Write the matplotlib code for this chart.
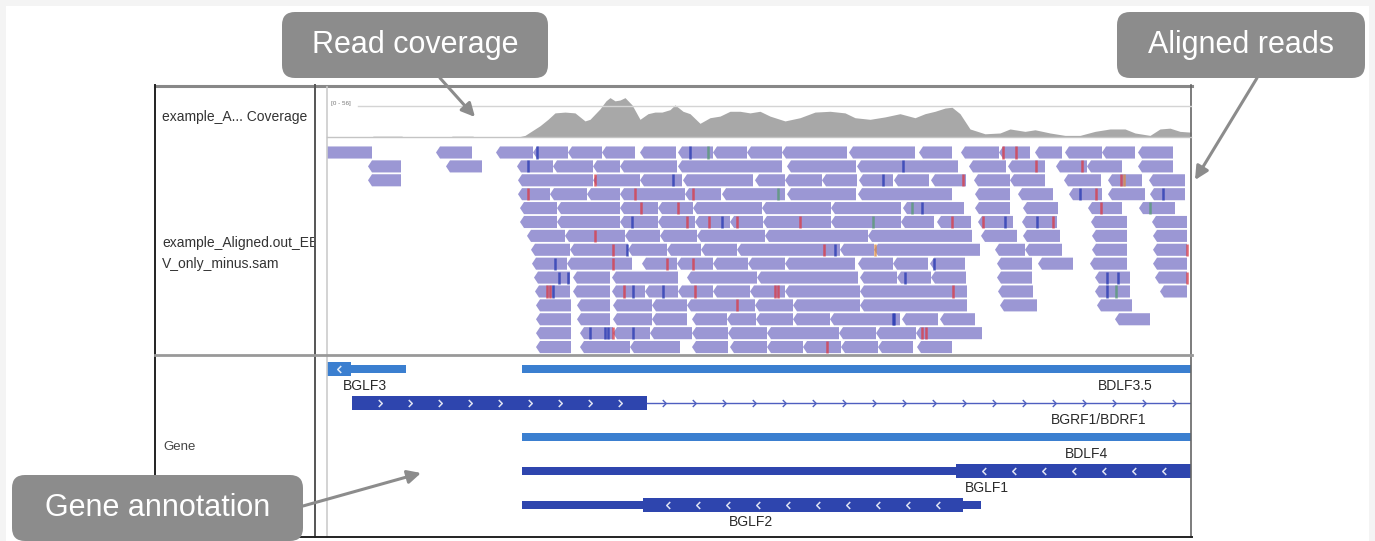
import numpy as np
import matplotlib.pyplot as plt
from matplotlib.patches import Polygon, Rectangle, FancyBboxPatch
from matplotlib.collections import PatchCollection
from matplotlib.path import Path

plt.rcParams['font.family'] = ['Liberation Sans', 'DejaVu Sans']

W, H = 1375, 541

# ---- coverage track (position, depth) ----
cov_pos = [327, 372, 373, 402, 403, 451, 452, 473, 474, 518, 525, 540, 548, 555, 565,
           575, 585, 590, 600, 606, 610, 615, 620, 625, 632, 640, 648, 655, 662, 670,
           675, 683, 690, 700, 710, 720, 730, 740, 750, 760, 770, 785, 800, 815, 830,
           845, 855, 870, 885, 900, 915, 925, 935, 945, 952, 960, 970, 985, 1000, 1010,
           1025, 1035, 1050, 1065, 1080, 1095, 1110, 1125, 1135, 1150, 1160, 1170, 1180, 1191]
cov_depth = [0, 0, 1, 1, 0, 0, 1, 1, 0, 0, 2, 14, 22, 30, 31,
             30, 20, 22, 35, 45, 49, 45, 46, 49, 40, 22, 29, 31, 31, 34,
             40, 32, 29, 17, 24, 26, 32, 32, 30, 32, 26, 20, 24, 31, 32,
             30, 24, 22, 25, 29, 24, 29, 32, 36, 37, 29, 10, 4, 5, 10,
             7, 9, 5, 2, 2, 7, 10, 10, 5, 2, 10, 11, 7, 6]
cov_max = 56

# ---- aligned reads, one list per row: (start, end) ----
read_rows = [
    [(320, 372), (436, 472), (496, 533), (533, 568), (568, 602), (602, 635), (640, 676), (678, 713),
     (713, 747), (747, 782), (782, 847), (849, 915), (919, 952), (961, 999), (999, 1030),
     (1035, 1062), (1065, 1102), (1102, 1135), (1138, 1173)],
    [(368, 401), (446, 482), (517, 553), (553, 593), (593, 620), (620, 677), (678, 782), (787, 856),
     (857, 958), (969, 1006), (1008, 1045), (1056, 1087), (1087, 1122), (1138, 1173)],
    [(368, 401), (518, 593), (593, 640), (640, 682), (683, 753), (755, 785), (785, 822), (822, 857),
     (859, 893), (894, 929), (931, 966), (974, 1010), (1010, 1045), (1064, 1101), (1108, 1142),
     (1149, 1185)],
    [(518, 550), (550, 587), (587, 620), (620, 685), (685, 721), (722, 785), (787, 856), (858, 952),
     (975, 1010), (1018, 1053), (1069, 1102), (1108, 1145), (1150, 1185)],
    [(520, 557), (557, 620), (620, 658), (658, 693), (693, 762), (762, 831), (831, 901), (903, 964),
     (975, 1010), (1023, 1058), (1088, 1122), (1139, 1175)],
    [(520, 557), (557, 620), (620, 658), (658, 695), (695, 730), (730, 763), (763, 831), (831, 901),
     (901, 934), (937, 971), (978, 1013), (1022, 1057), (1091, 1127), (1152, 1187)],
    [(527, 565), (565, 625), (625, 660), (660, 697), (697, 765), (765, 868), (868, 972), (981, 1017),
     (1023, 1060), (1092, 1127), (1153, 1187)],
    [(531, 570), (570, 628), (628, 667), (667, 701), (701, 737), (737, 840), (840, 874), (874, 980),
     (995, 1025), (1025, 1062), (1092, 1127), (1153, 1187)],
    [(532, 567), (567, 632), (642, 677), (677, 713), (713, 748), (748, 785), (785, 855), (858, 893),
     (893, 928), (930, 965), (997, 1032), (1038, 1073), (1090, 1127), (1153, 1187)],
    [(534, 570), (573, 610), (612, 678), (687, 757), (757, 858), (860, 897), (897, 931), (931, 966),
     (997, 1032), (1095, 1130), (1155, 1187)],
    [(535, 570), (573, 610), (612, 645), (645, 678), (678, 713), (713, 750), (750, 785), (785, 860),
     (860, 967), (998, 1033), (1095, 1130), (1160, 1187)],
    [(536, 571), (577, 610), (613, 652), (652, 687), (687, 755), (755, 793), (793, 860), (860, 967),
     (1000, 1037), (1097, 1132)],
    [(536, 571), (577, 610), (613, 652), (652, 687), (692, 727), (727, 756), (756, 793), (793, 830),
     (830, 900), (902, 938), (940, 975), (1115, 1150)],
    [(536, 571), (580, 613), (613, 650), (650, 692), (692, 728), (728, 767), (767, 839), (839, 876),
     (876, 916), (916, 982)],
    [(536, 571), (580, 630), (630, 680), (692, 728), (730, 767), (767, 803), (803, 841), (841, 878),
     (878, 913), (917, 952)],
]

# mismatched bases: (position, row, base colour key)
mismatches = [
    (537, 0, 'b'), (690, 0, 'b'), (708, 0, 'g'), (1003, 0, 'r'), (1016, 0, 'r'),
    (528, 1, 'b'), (903, 1, 'b'), (1036, 1, 'r'), (1082, 1, 'r'),
    (595, 2, 'r'), (673, 2, 'b'), (883, 2, 'b'), (963, 2, 'r'), (1121, 2, 'r'), (1124, 2, 'o'),
    (528, 3, 'r'), (635, 3, 'r'), (693, 3, 'r'), (778, 3, 'g'), (1080, 3, 'b'), (1096, 3, 'r'), (1163, 3, 'b'),
    (641, 4, 'r'), (678, 4, 'r'), (912, 4, 'g'), (922, 4, 'b'), (1101, 4, 'r'), (1150, 4, 'g'),
    (632, 5, 'b'), (687, 5, 'r'), (709, 5, 'r'), (722, 5, 'b'), (737, 5, 'r'), (800, 5, 'r'), (873, 5, 'g'),
    (952, 5, 'r'), (983, 5, 'r'), (1005, 5, 'b'), (1037, 5, 'b'), (1053, 5, 'r'),
    (595, 6, 'r'),
    (613, 7, 'r'), (627, 7, 'b'), (824, 7, 'r'), (835, 7, 'b'), (875, 7, 'o'), (1187, 7, 'r'),
    (555, 8, 'b'), (613, 8, 'r'), (667, 8, 'r'), (693, 8, 'r'), (934, 8, 'b'),
    (559, 9, 'b'), (568, 9, 'b'), (905, 9, 'b'), (1107, 9, 'b'), (1118, 9, 'b'), (1187, 9, 'r'),
    (547, 10, 'r'), (550, 10, 'r'), (553, 10, 'b'), (624, 10, 'r'), (633, 10, 'b'), (663, 10, 'b'),
    (695, 10, 'r'), (775, 10, 'r'), (778, 10, 'r'), (953, 10, 'r'), (1107, 10, 'b'), (1116, 10, 'g'),
    (737, 11, 'r'),
    (893, 12, 'b'), (894, 12, 'b'),
    (590, 13, 'b'), (605, 13, 'b'), (608, 13, 'b'), (613, 13, 'r'), (633, 13, 'b'), (922, 13, 'r'), (926, 13, 'r'),
    (827, 14, 'r'),
]
base_colors = {'r': '#d8404c', 'b': '#2c3db3', 'g': '#5a9a78', 'o': '#d98c4a'}

# ---- gene annotation ----
gene_names = ['BGLF3', 'BDLF3.5', 'BGRF1/BDRF1', 'BDLF4', 'BGLF1', 'BGLF2']
gene_rows = [0, 0, 1, 2, 3, 4]
gene_strand = ['-', '-', '+', '-', '-', '-']
gene_shade = ['light', 'light', 'dark', 'light', 'dark', 'dark']
gene_parts = [
    [(318, 351, 'cds'), (351, 406, 'utr')],
    [(522, 1200, 'utr')],
    [(352, 647, 'cds'), (647, 1200, 'intron')],
    [(522, 1200, 'utr')],
    [(522, 956, 'utr'), (956, 1200, 'cds')],
    [(522, 643, 'utr'), (643, 963, 'cds'), (963, 981, 'utr')],
]
label_x = [365, 1125, 1099, 1087, 987, 751]

READ_COLOR = '#9b97d4'
GENE_COLORS = {'light': '#3b7fd0', 'dark': '#2e45ae'}
X0, X1 = 327, 1191

fig = plt.figure(figsize=(W / 100, H / 100), dpi=100)
fig.patch.set_facecolor('#f4f4f4')


def px_axes(x0, y0, x1, y1):
    ax = fig.add_axes([x0 / W, 1 - y1 / H, (x1 - x0) / W, (y1 - y0) / H])
    ax.set_axis_off()
    return ax


# white card behind everything
bg = px_axes(0, 0, W, H)
bg.set_xlim(0, W)
bg.set_ylim(H, 0)
bg.add_patch(Rectangle((6, 6), W - 12, H - 6, color='white', lw=0))

# coverage
ax_cov = px_axes(X0, 92, X1, 137)
ax_cov.set_xlim(X0, X1)
ax_cov.set_ylim(0, cov_max)
ax_cov.fill_between(cov_pos, cov_depth, color='#a8a8a8', lw=0)

# reads
ax_rd = px_axes(X0, 140, X1, 354)
ax_rd.set_xlim(X0, X1)
ax_rd.set_ylim(14.5, -0.9)
h = 0.435
tip = 4
polys = []
for r, row in enumerate(read_rows):
    for s, e in row:
        polys.append(Polygon([(s, r), (s + tip, r - h), (e, r - h), (e, r + h), (s + tip, r + h)]))
ax_rd.add_collection(PatchCollection(polys, facecolor=READ_COLOR, edgecolor='none'))
for x, r, c in mismatches:
    ax_rd.vlines(x, r - h, r + h, color=base_colors[c], lw=1.8, alpha=0.8)

# genes
ax_g = px_axes(X0, 356, X1, 536)
ax_g.set_xlim(X0, X1)
ax_g.set_ylim((536 - 369) / 34, (356 - 369) / 34)
chev_r = Path([(-0.5, 1), (0.5, 0), (-0.5, -1)], [Path.MOVETO, Path.LINETO, Path.LINETO])
chev_l = Path([(0.5, 1), (-0.5, 0), (0.5, -1)], [Path.MOVETO, Path.LINETO, Path.LINETO])
for name, row, strand, shade, parts, lx in zip(gene_names, gene_rows, gene_strand,
                                               gene_shade, gene_parts, label_x):
    col = GENE_COLORS[shade]
    mk = chev_r if strand == '+' else chev_l
    for s, e, kind in parts:
        if kind == 'intron':
            ax_g.plot([s, e], [row, row], color='#4f5fc0', lw=1)
        else:
            hh = 0.21 if kind == 'cds' else 0.125
            ax_g.add_patch(Rectangle((s, row - hh), e - s, 2 * hh, color=col, lw=0))
        if kind in ('cds', 'intron'):
            a, b = max(s, X0), min(e, X1)
            n = max(1, int((b - a) / 30))
            cx = a + (b - a - (n - 1) * 30) / 2 + np.arange(n) * 30
            if kind == 'cds':
                ax_g.plot(cx, [row] * n, ls='none', marker=mk, ms=5, mfc='none',
                          mec='white', mew=1.1, alpha=0.85)
            else:
                ax_g.plot(cx, [row] * n, ls='none', marker=mk, ms=5, mfc='none',
                          mec='#4f5fc0', mew=1)
    ax_g.text(lx, row + 0.5, name, ha='center', va='center', fontsize=10, color='#2a2a2a')

# track names
ax_nm = px_axes(155, 85, 315, 537)
ax_nm.set_xlim(155, 315)
ax_nm.set_ylim(537, 85)
ax_nm.text(162, 117, 'example_A... Coverage', fontsize=10, color='#333333', va='center', clip_on=True)
ax_nm.text(162, 243, 'example_Aligned.out_EB', fontsize=10, color='#333333', va='center', clip_on=True)
ax_nm.text(162, 264, 'V_only_minus.sam', fontsize=10, color='#333333', va='center', clip_on=True)
ax_nm.text(163, 447, 'Gene', fontsize=9.5, color='#444444', va='center', clip_on=True)

# frame lines and callouts on top
top = px_axes(0, 0, W, H)
top.set_xlim(0, W)
top.set_ylim(H, 0)
top.plot([155, 1192], [86, 86], color='#888888', lw=2.2)
top.plot([155, 155], [85, 537], color='#222222', lw=1.4)
top.plot([315, 315], [85, 537], color='#555555', lw=1.4)
top.plot([327, 327], [87, 537], color='#cccccc', lw=1.2)
top.plot([1191, 1191], [85, 537], color='#666666', lw=1.2)
top.plot([155, 1192], [537, 537], color='#222222', lw=1.4)
top.plot([155, 1192], [355, 355], color='#999999', lw=2)
top.plot([X0, X1], [137, 137], color='#c4c4c4', lw=1)
top.plot([358, X1], [106, 106], color='#d4d4d4', lw=1)
top.text(331, 104, '[0 - 56]', fontsize=4.5, color='#777777', va='center')

callouts = [
    ('Read coverage', (282, 12, 548, 78), (440, 78), (475, 117)),
    ('Aligned reads', (1117, 12, 1365, 78), (1257, 78), (1195, 180)),
    ('Gene annotation', (12, 475, 303, 541), (303, 506), (421, 473)),
]
for label, (x0, y0, x1, y1), start, end in callouts:
    top.add_patch(FancyBboxPatch((x0, y0), x1 - x0, y1 - y0,
                                 boxstyle='round,pad=0,rounding_size=13',
                                 fc='#8c8c8c', ec='none', zorder=5))
    top.text((x0 + x1) / 2, (y0 + y1) / 2, label, fontsize=22, color='white',
             ha='center', va='center', zorder=6)
    top.annotate('', xy=end, xytext=start, zorder=4,
                 arrowprops=dict(arrowstyle='-|>', color='#8c8c8c', lw=2.2,
                                 mutation_scale=20, shrinkA=0, shrinkB=0))

plt.savefig('out.png', dpi=100)
